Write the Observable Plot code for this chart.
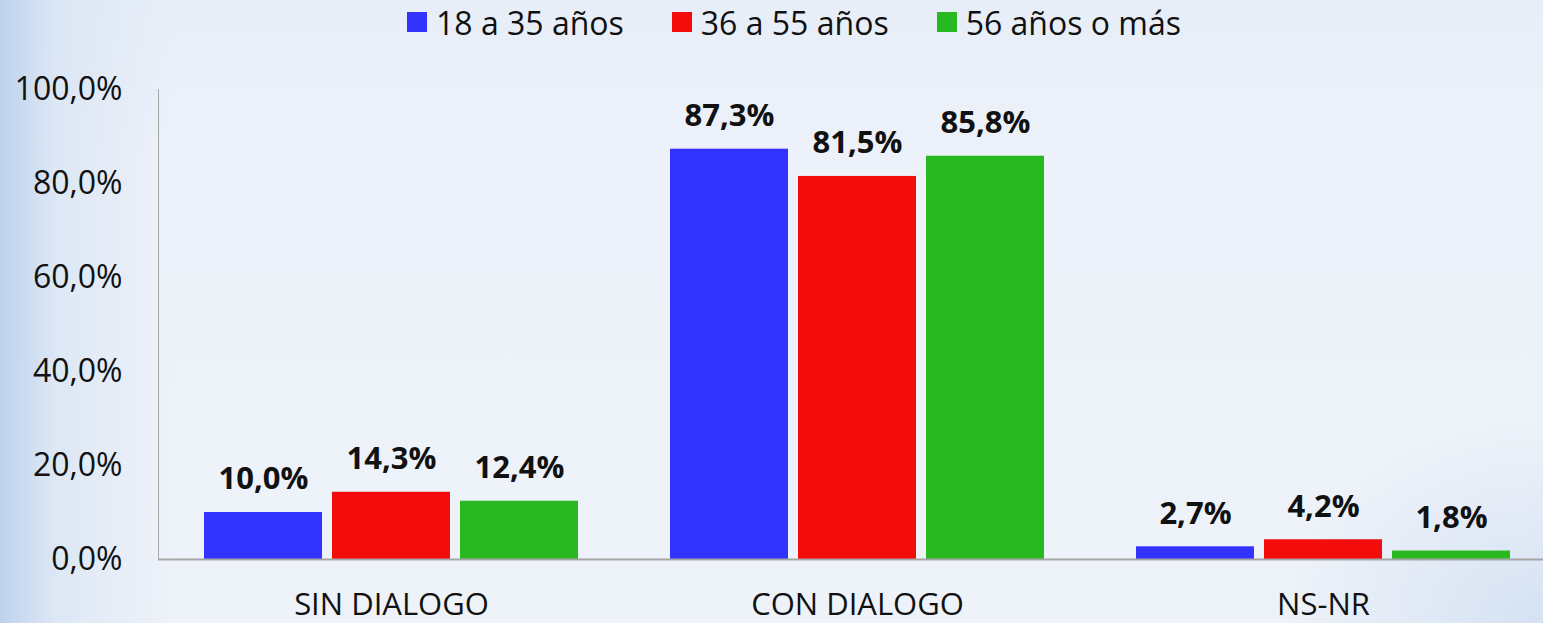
<!DOCTYPE html>
<html>
<head>
<meta charset="utf-8">
<script src="https://cdn.jsdelivr.net/npm/d3@7"></script>
<script src="https://cdn.jsdelivr.net/npm/@observablehq/plot@0.6"></script>
<style>
html, body { margin: 0; padding: 0; width: 1543px; height: 623px; overflow: hidden; }
body {
  font-family: "Open Sans", sans-serif;
  color: #111;
  background:
    linear-gradient(to right, rgba(190,210,236,1) 0px, rgba(215,228,244,0.75) 55px, rgba(238,242,249,0) 170px),
    radial-gradient(ellipse 260px 200px at 100% 100%, rgba(210,224,242,0.9) 0%, rgba(238,242,249,0) 100%),
    linear-gradient(to bottom, #e7eef8 0px, #edf1f9 150px, #eef2f9 100%);
}
#legend { position: absolute; left: 407px; top: 0; height: 44px; display: flex; align-items: center; font-size: 32px; }
#legend .item { display: flex; align-items: center; margin-right: 48px; }
#legend .sw { width: 20px; height: 20px; margin-right: 9px; }
#chart { position: absolute; left: 0; top: 44px; }
#chart svg [aria-label^="y-axis"] path,
#chart svg [aria-label^="y-axis"] line,
#chart svg [aria-label^="y-axis"] rect,
#chart svg [aria-label^="frame"] line,
#chart svg [aria-label^="frame"] rect { stroke: #a6a6a6; }
#chart svg [aria-label^="fx-axis"] text { font-size: 31px; }
</style>
</head>
<body>
<div id="legend"></div>
<div id="chart"></div>
<script>
const categories = ["SIN DIALOGO", "CON DIALOGO", "NS-NR"];
const series = ["18 a 35 años", "36 a 55 años", "56 años o más"];
const colors = ["#3333ff", "#f20c0c", "#28b820"];
const values1835 = [10.0, 87.3, 2.7];
const values3655 = [14.3, 81.5, 4.2];
const values56 = [12.4, 85.8, 1.8];
const yTicks = [0, 20, 40, 60, 80, 100];

const seriesValues = [values1835, values3655, values56];
const data = categories.flatMap((c, i) => series.map((s, j) => ({cat: c, series: s, value: seriesValues[j][i]})));
const fmt = d => d.toFixed(1).replace(".", ",") + "%";

// legend
const legend = document.getElementById("legend");
series.forEach((s, i) => {
  const item = document.createElement("div");
  item.className = "item";
  const sw = document.createElement("div");
  sw.className = "sw";
  sw.style.background = colors[i];
  const t = document.createElement("span");
  t.textContent = s;
  item.appendChild(sw);
  item.appendChild(t);
  legend.appendChild(item);
});

const chart = Plot.plot({
  width: 1543,
  height: 579,
  marginLeft: 158,
  marginRight: -13,
  marginTop: 45,
  marginBottom: 64,
  style: {background: "transparent", fontFamily: "Open Sans", fontSize: "32px", color: "#111", overflow: "visible"},
  fx: {domain: categories, paddingInner: 0, paddingOuter: 0, label: null, tickSize: 0, tickPadding: 33, axis: "bottom"},
  x: {domain: series, paddingInner: 0.078, paddingOuter: 0.359, axis: null},
  y: {domain: [0, 100], ticks: yTicks, tickFormat: fmt, tickSize: 0, tickPadding: 36, label: null, line: true},
  color: {domain: series, range: colors},
  marks: [
    Plot.barY(data, {fx: "cat", x: "series", y: "value", fill: "series"}),
    Plot.ruleY([0], {stroke: "#a6a6a6", strokeWidth: 2}),
    Plot.text(data, {fx: "cat", x: "series", y: "value", text: d => fmt(d.value), dy: -33, lineAnchor: "middle", fontWeight: "bold", fontSize: 31, fill: "#111"})
  ]
});
document.getElementById("chart").appendChild(chart);
</script>
</body>
</html>
